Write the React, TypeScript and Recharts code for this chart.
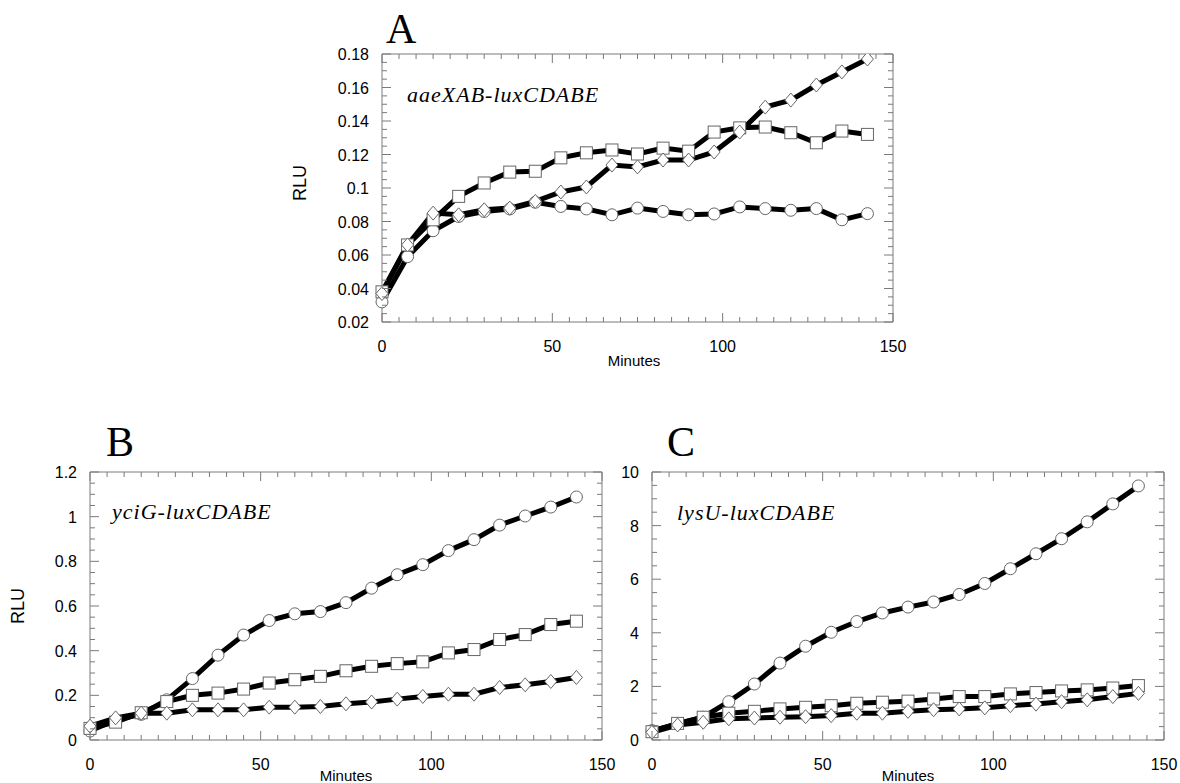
import React from 'react';
import { LineChart, Line, XAxis, YAxis } from 'recharts';

// sampling times (min)
const minutes = [0, 7.5, 15, 22.5, 30, 37.5, 45, 52.5, 60, 67.5, 75, 82.5, 90, 97.5, 105, 112.5, 120, 127.5, 135, 142.5];

// A: aaeXAB-luxCDABE
const aaeCircle = [0.032, 0.059, 0.0745, 0.083, 0.086, 0.0875, 0.0915, 0.089, 0.0875, 0.084, 0.088, 0.086, 0.084, 0.0845, 0.0887, 0.0877, 0.0867, 0.0877, 0.081, 0.0847];
const aaeSquare = [0.038, 0.066, 0.081, 0.095, 0.103, 0.1095, 0.11, 0.118, 0.121, 0.1227, 0.1203, 0.1238, 0.122, 0.1334, 0.1359, 0.1364, 0.133, 0.127, 0.134, 0.132];
const aaeDiamond = [0.037, 0.066, 0.085, 0.084, 0.087, 0.088, 0.092, 0.0976, 0.1006, 0.1137, 0.1126, 0.1167, 0.1167, 0.1215, 0.1334, 0.1483, 0.1525, 0.1615, 0.1693, 0.177];

// B: yciG-luxCDABE
const yciCircle = [0.04, 0.09, 0.115, 0.18, 0.275, 0.38, 0.47, 0.535, 0.565, 0.575, 0.615, 0.68, 0.74, 0.785, 0.848, 0.897, 0.962, 1.003, 1.043, 1.088];
const yciSquare = [0.052, 0.08, 0.122, 0.172, 0.2, 0.21, 0.228, 0.255, 0.27, 0.285, 0.31, 0.33, 0.342, 0.35, 0.39, 0.405, 0.45, 0.472, 0.517, 0.532];
const yciDiamond = [0.062, 0.099, 0.12, 0.12, 0.135, 0.135, 0.135, 0.147, 0.147, 0.15, 0.162, 0.17, 0.183, 0.195, 0.205, 0.205, 0.235, 0.247, 0.262, 0.28];

// C: lysU-luxCDABE
const lysCircle = [0.35, 0.6, 0.85, 1.43, 2.09, 2.87, 3.5, 4.02, 4.42, 4.74, 4.96, 5.15, 5.43, 5.84, 6.39, 6.95, 7.51, 8.14, 8.81, 9.48];
const lysSquare = [0.31, 0.62, 0.85, 1.0, 1.07, 1.16, 1.22, 1.28, 1.37, 1.41, 1.45, 1.53, 1.62, 1.62, 1.72, 1.77, 1.83, 1.87, 1.94, 2.03];
const lysDiamond = [0.29, 0.56, 0.66, 0.79, 0.82, 0.85, 0.87, 0.91, 1.0, 1.0, 1.07, 1.13, 1.16, 1.2, 1.28, 1.34, 1.43, 1.5, 1.62, 1.74];

const xMajor = [0, 50, 100, 150];
const aaeYMajor = [0.02, 0.04, 0.06, 0.08, 0.1, 0.12, 0.14, 0.16, 0.18];
const yciYMajor = [0, 0.2, 0.4, 0.6, 0.8, 1, 1.2];
const lysYMajor = [0, 2, 4, 6, 8, 10];

const AXIS = '#7a7a7a';
const MARK = '#666';
const SANS = '"Liberation Sans", Arial, sans-serif';
const SERIF = '"Liberation Serif", "Times New Roman", serif';

type Row = { t: number; circle: number; square: number; diamond: number };

const rowsOf = (c: number[], s: number[], d: number[]): Row[] =>
  minutes.map((t, i) => ({ t, circle: c[i], square: s[i], diamond: d[i] }));

// minor ticks between the labelled ones
function withMinor(major: number[], div: number) {
  const out: number[] = [];
  for (let i = 0; i < major.length - 1; i++) {
    const step = (major[i + 1] - major[i]) / div;
    for (let k = 0; k < div; k++) out.push(major[i] + k * step);
  }
  out.push(major[major.length - 1]);
  return out;
}

const findMajor = (v: number, major: number[]) => major.findIndex((m) => Math.abs(m - v) < 1e-9);

const xTicks = withMinor(xMajor, 10);

function xTick(side: 'bottom' | 'top', labels: boolean) {
  return (p: any) => {
    const idx = findMajor(p.payload.value, xMajor);
    const len = idx >= 0 ? 9 : 5;
    const dir = side === 'bottom' ? -1 : 1;
    return (
      <g>
        <line x1={p.x} x2={p.x} y1={p.y} y2={p.y + dir * len} stroke={AXIS} strokeWidth={1} />
        {labels && idx >= 0 && (
          <text x={p.x} y={p.y + 30} textAnchor="middle" fontFamily={SANS} fontSize={16} fill="#000">
            {xMajor[idx]}
          </text>
        )}
      </g>
    );
  };
}

function yTick(side: 'left' | 'right', major: number[], labels: boolean) {
  return (p: any) => {
    const idx = findMajor(p.payload.value, major);
    const len = idx >= 0 ? 9 : 5;
    const dir = side === 'left' ? 1 : -1;
    return (
      <g>
        <line x1={p.x} x2={p.x + dir * len} y1={p.y} y2={p.y} stroke={AXIS} strokeWidth={1} />
        {labels && idx >= 0 && (
          <text x={p.x - 13} y={p.y + 6} textAnchor="end" fontFamily={SANS} fontSize={16} fill="#000">
            {String(major[idx])}
          </text>
        )}
      </g>
    );
  };
}

const circleDot = (p: any) => (
  <circle key={`c${p.index}`} cx={p.cx} cy={p.cy} r={6} fill="#fff" stroke={MARK} strokeWidth={1} />
);
const squareDot = (p: any) => (
  <rect key={`s${p.index}`} x={p.cx - 6} y={p.cy - 6} width={12} height={12} fill="#fff" stroke={MARK} strokeWidth={1} />
);
const diamondDot = (p: any) => (
  <polygon
    key={`d${p.index}`}
    points={`${p.cx},${p.cy - 7} ${p.cx + 6},${p.cy} ${p.cx},${p.cy + 7} ${p.cx - 6},${p.cy}`}
    fill="#fff"
    stroke={MARK}
    strokeWidth={1}
  />
);

function Panel({ left, top, w, h, yMajor, rows }: { left: number; top: number; w: number; h: number; yMajor: number[]; rows: Row[] }) {
  // axes are 1px thick each, so margins are 1px smaller to keep the plot box exact
  const ml = 70, mr = 20, mt = 20, mb = 50;
  const yTicks = withMinor(yMajor, 4);
  const yDomain = [yMajor[0], yMajor[yMajor.length - 1]];
  const common = { type: 'number' as const, interval: 0, tickSize: 0, tickMargin: 0, tickLine: false, axisLine: { stroke: AXIS } };
  return (
    <div style={{ position: 'absolute', left: left - ml, top: top - mt }}>
      <LineChart width={w + ml + mr} height={h + mt + mb} data={rows} margin={{ top: mt - 1, right: mr - 1, bottom: mb - 1, left: ml - 1 }}>
        <XAxis xAxisId="b" dataKey="t" domain={[0, 150]} ticks={xTicks} height={1} tick={xTick('bottom', true)} {...common} />
        <XAxis xAxisId="t" dataKey="t" orientation="top" domain={[0, 150]} ticks={xTicks} height={1} tick={xTick('top', false)} {...common} />
        <YAxis yAxisId="l" domain={yDomain} ticks={yTicks} width={1} tick={yTick('left', yMajor, true)} allowDataOverflow {...common} />
        <YAxis yAxisId="r" orientation="right" domain={yDomain} ticks={yTicks} width={1} tick={yTick('right', yMajor, false)} allowDataOverflow {...common} />
        <Line xAxisId="b" yAxisId="l" type="linear" dataKey="circle" stroke="#000" strokeWidth={5} dot={circleDot} activeDot={false} isAnimationActive={false} />
        <Line xAxisId="b" yAxisId="l" type="linear" dataKey="square" stroke="#000" strokeWidth={5} dot={squareDot} activeDot={false} isAnimationActive={false} />
        <Line xAxisId="b" yAxisId="l" type="linear" dataKey="diamond" stroke="#000" strokeWidth={5} dot={diamondDot} activeDot={false} isAnimationActive={false} />
      </LineChart>
    </div>
  );
}

export default function App() {
  return (
    <div style={{ position: 'absolute', left: 0, top: 0, width: 1180, height: 783, overflow: 'hidden', background: '#fff' }}>
      <Panel left={382} top={54} w={511} h={268} yMajor={aaeYMajor} rows={rowsOf(aaeCircle, aaeSquare, aaeDiamond)} />
      <Panel left={90} top={472} w={512} h={268} yMajor={yciYMajor} rows={rowsOf(yciCircle, yciSquare, yciDiamond)} />
      <Panel left={652} top={472} w={512} h={268} yMajor={lysYMajor} rows={rowsOf(lysCircle, lysSquare, lysDiamond)} />
      <svg width={1180} height={783} style={{ position: 'absolute', left: 0, top: 0, pointerEvents: 'none' }}>
        <g fontFamily={SERIF} fontSize={42} fill="#000">
          <text x={386} y={43}>A</text>
          <text x={106} y={456}>B</text>
          <text x={667} y={456}>C</text>
        </g>
        <g fontFamily={SERIF} fontStyle="italic" fontSize={22} letterSpacing={1} fill="#000">
          <text x={407} y={102}>aaeXAB-luxCDABE</text>
          <text x={112} y={519}>yciG-luxCDABE</text>
          <text x={677} y={520}>lysU-luxCDABE</text>
        </g>
        <g fontFamily={SANS} fill="#000">
          <text x={306} y={183} fontSize={18} textAnchor="middle" transform="rotate(-90 306 183)">RLU</text>
          <text x={24} y={606} fontSize={18} textAnchor="middle" transform="rotate(-90 24 606)">RLU</text>
          <text x={634} y={366} fontSize={15} textAnchor="middle">Minutes</text>
          <text x={346} y={781} fontSize={15} textAnchor="middle">Minutes</text>
          <text x={908} y={781} fontSize={15} textAnchor="middle">Minutes</text>
        </g>
      </svg>
    </div>
  );
}
